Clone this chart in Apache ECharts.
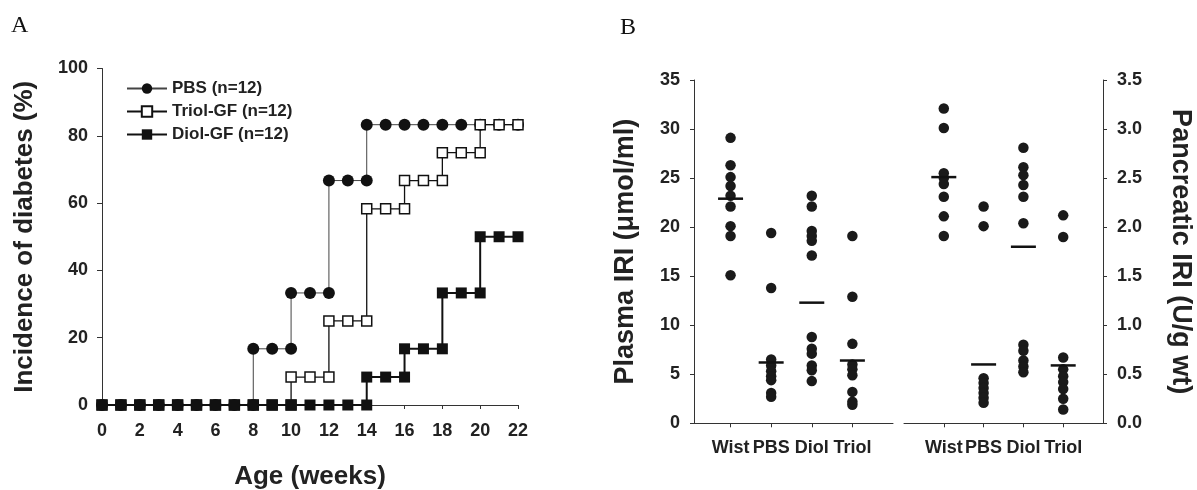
<!DOCTYPE html>
<html>
<head>
<meta charset="utf-8">
<script src="https://cdn.jsdelivr.net/npm/echarts@6/dist/echarts.min.js"></script>
<style>
html, body { margin: 0; padding: 0; background: #fff; }
#main { width: 1197px; height: 490px; }
</style>
</head>
<body>
<div id="main"></div>
<script>
// ---- panel A: cumulative incidence (step points, jump weeks listed twice)
var pbsWeeks   = [0,1,2,3,4,5,6,7,8, 8,9,10, 10,11,12, 12,13,14, 14,15,16,17,18,19,20,21,22];
var pbsPct     = [0,0,0,0,0,0,0,0,0, 16.7,16.7,16.7, 33.3,33.3,33.3, 66.7,66.7,66.7, 83.3,83.3,83.3,83.3,83.3,83.3,83.3,83.3,83.3];
var triolWeeks = [0,1,2,3,4,5,6,7,8,9,10, 10,11,12, 12,13,14, 14,15,16, 16,17,18, 18,19,20, 20,21,22];
var triolPct   = [0,0,0,0,0,0,0,0,0,0,0, 8.3,8.3,8.3, 25,25,25, 58.3,58.3,58.3, 66.7,66.7,66.7, 75,75,75, 83.3,83.3,83.3];
var diolWeeks  = [0,1,2,3,4,5,6,7,8,9,10,11,12,13,14, 14,15,16, 16,17,18, 18,19,20, 20,21,22];
var diolPct    = [0,0,0,0,0,0,0,0,0,0,0,0,0,0,0, 8.3,8.3,8.3, 16.7,16.7,16.7, 33.3,33.3,33.3, 50,50,50];

// ---- panel B: individual values and group means
var groups = ['Wist', 'PBS', 'Diol', 'Triol'];
var plasmaWist  = [29.1, 26.3, 25.1, 24.2, 23.2, 22.1, 20.1, 19.1, 15.1];
var plasmaPBS   = [19.4, 13.8, 6.5, 5.9, 5.3, 4.8, 4.4, 3.1, 2.7];
var plasmaDiol  = [23.2, 22.1, 19.6, 19.1, 18.6, 17.1, 8.8, 7.6, 7.1, 5.9, 5.4, 4.3];
var plasmaTriol = [19.1, 12.9, 8.1, 6.0, 5.5, 4.9, 3.2, 2.2, 1.9];
var plasmaMeans = [22.9, 6.2, 12.3, 6.4];
var pancWist  = [3.21, 3.01, 2.55, 2.5, 2.44, 2.31, 2.11, 1.91];
var pancPBS   = [2.21, 2.01, 0.46, 0.41, 0.36, 0.31, 0.26, 0.21];
var pancDiol  = [2.81, 2.61, 2.53, 2.43, 2.31, 2.04, 0.8, 0.74, 0.64, 0.58, 0.52];
var pancTriol = [2.12, 1.9, 0.67, 0.55, 0.48, 0.42, 0.35, 0.25, 0.14];
var pancMeans = [2.51, 0.6, 1.8, 0.59];

var FONT = '"Liberation Sans", Arial, sans-serif';
var INK = '#222';

function pairs(xs, ys) {
    return xs.map(function (x, i) { return [x, ys[i]]; });
}
function groupPoints(lists) {
    var out = [];
    lists.forEach(function (vals, g) {
        vals.forEach(function (v) { out.push([g + 1, v]); });
    });
    return out;
}
function meanPoints(means) {
    return means.map(function (m, g) { return [g + 1, m]; });
}

var tickLabel = { fontSize: 18, fontWeight: 'bold', color: INK, fontFamily: FONT };
var axisName = { fontSize: 26, fontWeight: 'bold', color: INK, fontFamily: FONT };
var axisLine = { show: true, onZero: false, lineStyle: { color: '#333', width: 1 } };

function groupAxis(gridIndex, min) {
    return {
        gridIndex: gridIndex, type: 'value', min: min, max: 5,
        axisLine: axisLine,
        axisTick: { show: true, length: 4, customValues: [1, 2, 3, 4], lineStyle: { color: '#333' } },
        axisLabel: {
            customValues: [1, 2, 3, 4], margin: 16,
            fontSize: 18, fontWeight: 'bold', color: INK, fontFamily: FONT,
            formatter: function (v) { return groups[Math.round(v) - 1]; }
        },
        splitLine: { show: false }
    };
}

var myChart = echarts.init(document.getElementById('main'));
var option = {
    animation: false,
    backgroundColor: '#fff',
    graphic: [
        { type: 'text', left: 11, top: 14, style: { text: 'A', font: '24px "Liberation Serif", serif', fill: '#111' } },
        { type: 'text', left: 620, top: 16, style: { text: 'B', font: '24px "Liberation Serif", serif', fill: '#111' } }
    ],
    legend: {
        orient: 'vertical',
        left: 121, top: 75,
        itemWidth: 40, itemHeight: 13, itemGap: 6,
        textStyle: { fontSize: 17, fontWeight: 'bold', color: INK, fontFamily: FONT },
        data: ['PBS (n=12)', 'Triol-GF (n=12)', 'Diol-GF (n=12)']
    },
    grid: [
        { left: 102, right: 679, top: 68.5, bottom: 85, outerBoundsMode: 'none' },
        { left: 694, width: 199, top: 80, bottom: 66.7, outerBoundsMode: 'none' },
        { left: 904, width: 199, top: 80, bottom: 66.7, outerBoundsMode: 'none' }
    ],
    xAxis: [
        {
            gridIndex: 0, type: 'value', min: 0, max: 22, interval: 2,
            name: 'Age (weeks)', nameLocation: 'middle', nameGap: 59, nameTextStyle: axisName,
            axisLine: axisLine,
            axisTick: { show: true, length: 4, lineStyle: { color: '#333' } },
            axisLabel: Object.assign({ margin: 17 }, tickLabel),
            splitLine: { show: false }
        },
        groupAxis(1, 0.1),
        groupAxis(2, 0)
    ],
    yAxis: [
        {
            gridIndex: 0, type: 'value', min: 0, max: 100, interval: 20,
            name: 'Incidence of diabetes (%)', nameLocation: 'middle', nameGap: 64, nameTextStyle: axisName,
            axisLine: axisLine,
            axisTick: { show: true, length: 5, lineStyle: { color: '#333' } },
            axisLabel: Object.assign({ margin: 14 }, tickLabel),
            splitLine: { show: false }
        },
        {
            gridIndex: 1, type: 'value', min: 0, max: 35, interval: 5,
            name: 'Plasma IRI (\u03bcmol/ml)', nameLocation: 'middle', nameGap: 55,
            nameTextStyle: { fontSize: 27, fontWeight: 'bold', color: INK, fontFamily: FONT },
            axisLine: axisLine,
            axisTick: { show: true, length: 4, lineStyle: { color: '#333' } },
            axisLabel: Object.assign({ margin: 14 }, tickLabel),
            splitLine: { show: false }
        },
        {
            gridIndex: 2, type: 'value', position: 'right', min: 0, max: 3.5, interval: 0.5,
            name: 'Pancreatic IRI (U/g wt)', nameLocation: 'middle', nameGap: 64, nameRotate: -90,
            nameTextStyle: { fontSize: 27, fontWeight: 'bold', color: INK, fontFamily: FONT },
            axisLine: axisLine,
            axisTick: { show: true, length: 4, lineStyle: { color: '#333' } },
            axisLabel: Object.assign({ margin: 14, formatter: function (v) { return v.toFixed(1); } }, tickLabel),
            splitLine: { show: false }
        }
    ],
    series: [
        {
            name: 'PBS (n=12)', type: 'line', xAxisIndex: 0, yAxisIndex: 0,
            data: pairs(pbsWeeks, pbsPct),
            symbol: 'circle', symbolSize: 12,
            itemStyle: { color: '#111' },
            lineStyle: { color: '#444', width: 1 }
        },
        {
            name: 'Triol-GF (n=12)', type: 'line', xAxisIndex: 0, yAxisIndex: 0,
            data: pairs(triolWeeks, triolPct),
            symbol: 'rect', symbolSize: 10,
            itemStyle: { color: '#fff', borderColor: '#111', borderWidth: 1.5 },
            lineStyle: { color: '#111', width: 1.3 }
        },
        {
            name: 'Diol-GF (n=12)', type: 'line', xAxisIndex: 0, yAxisIndex: 0,
            data: pairs(diolWeeks, diolPct),
            symbol: 'rect', symbolSize: 11,
            itemStyle: { color: '#111' },
            lineStyle: { color: '#111', width: 2 }
        },
        {
            type: 'scatter', xAxisIndex: 1, yAxisIndex: 1,
            data: groupPoints([plasmaWist, plasmaPBS, plasmaDiol, plasmaTriol]),
            symbolSize: 10.5, itemStyle: { color: '#1a1a1a', opacity: 1 }
        },
        {
            type: 'scatter', xAxisIndex: 1, yAxisIndex: 1, z: 3,
            data: meanPoints(plasmaMeans),
            symbol: 'rect', symbolSize: [25, 2.5], itemStyle: { color: '#111', opacity: 1 }
        },
        {
            type: 'scatter', xAxisIndex: 2, yAxisIndex: 2,
            data: groupPoints([pancWist, pancPBS, pancDiol, pancTriol]),
            symbolSize: 10.5, itemStyle: { color: '#1a1a1a', opacity: 1 }
        },
        {
            type: 'scatter', xAxisIndex: 2, yAxisIndex: 2, z: 3,
            data: meanPoints(pancMeans),
            symbol: 'rect', symbolSize: [25, 2.5], itemStyle: { color: '#111', opacity: 1 }
        }
    ]
};
myChart.setOption(option);
</script>
</body>
</html>
